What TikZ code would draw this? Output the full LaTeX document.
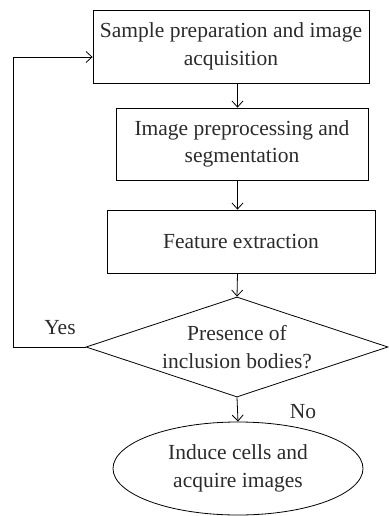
\documentclass[tikz,border=0pt]{standalone}
\usepackage{fontspec}
\setmainfont{Liberation Serif}
\usetikzlibrary{shapes.geometric,arrows.meta,positioning}
\definecolor{inkgray}{rgb}{0.17,0.17,0.17}
\tikzstyle{process} = [rectangle, draw=black, line width=0.8pt, align=center, inner sep=0pt]
\tikzstyle{decision} = [diamond, draw=black, line width=0.8pt, inner sep=0pt]
\tikzstyle{startstop} = [ellipse, draw=black, line width=0.8pt, align=center, inner sep=0pt]
\tikzstyle{arrow} = [line width=0.8pt,-{Straight Barb[length=6pt,width=11pt]}]

\begin{document}
\begin{tikzpicture}[x=1pt,y=-1pt,font=\fontsize{21.5}{27.5}\selectfont,text=inkgray]
\useasboundingbox (0,0) rectangle (388,516);
\draw (231,46.5) node (sample) [process, minimum width=276, minimum height=73] {Sample preparation and image\\acquisition};
\draw (242,144) node (prep) [process, minimum width=252, minimum height=72] {Image preprocessing and\\segmentation};
\draw (241,241.5) node (feat) [process, minimum width=268, minimum height=63] {Feature extraction};
\draw (237,347) node (incl) [decision, minimum width=302, minimum height=100,
    label={[align=center]center:{Presence of\\inclusion bodies?}}] {};
\draw (238,468.5) node (induce) [startstop, minimum width=250, minimum height=93] {Induce cells and\\acquire images};
%\node (axis) at (238,0) {};
\coordinate (axis) at (237.5,0);
\coordinate (back) at (13,57);
\draw[arrow] (sample.south -| axis) -- (prep.north -| axis);
\draw[arrow] (prep.south -| axis) -- (feat.north -| axis);
\draw[arrow] (feat.south -| axis) -- (incl.north);
\draw[arrow] (incl.south) -- (induce.north);
\draw[arrow] (incl.west) -| (back) -- (sample.west |- back);
\draw (60,328) node (yes) {Yes};
\draw (303,412) node (no) {No};
\end{tikzpicture}
\end{document}
